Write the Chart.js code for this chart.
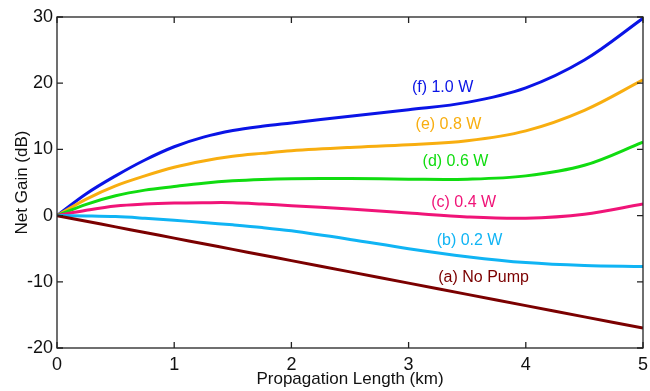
<!DOCTYPE html>
<html>
<head>
<meta charset="utf-8">
<script src="https://cdn.jsdelivr.net/npm/chart.js@4"></script>
<style>
  html, body { margin: 0; padding: 0; background: #fff; }
  #wrap { width: 650px; height: 391px; }
</style>
</head>
<body>
<div id="wrap"><canvas id="myChart"></canvas></div>
<script>
'use strict';

// Data

let lengths = [0, 0.25, 0.5, 0.75, 1, 1.25, 1.5, 1.75, 2, 2.5, 3, 3.5, 4, 4.5, 5];

let noPump = [0, -0.85, -1.7, -2.55, -3.4, -4.25, -5.1, -5.95, -6.8, -8.5, -10.2, -11.9, -13.6, -15.3, -17];
let pump02 = [0, -0.05, -0.15, -0.4, -0.7, -1.05, -1.4, -1.8, -2.3, -3.6, -5.0, -6.2, -7.1, -7.55, -7.7];
let pump04 = [0, 0.8, 1.45, 1.75, 1.9, 1.95, 1.95, 1.75, 1.5, 1.0, 0.4, -0.2, -0.4, 0.2, 1.75];
let pump06 = [0, 1.7, 3.0, 3.85, 4.4, 4.9, 5.25, 5.45, 5.55, 5.6, 5.5, 5.5, 6.0, 7.6, 11.1];
let pump08 = [0, 2.5, 4.5, 6.0, 7.3, 8.25, 8.95, 9.4, 9.8, 10.3, 10.7, 11.3, 12.8, 15.9, 20.5];
let pump10 = [0, 3.3, 6.0, 8.4, 10.4, 11.85, 12.85, 13.5, 14.0, 15.0, 16.0, 17.1, 19.3, 23.5, 29.8];

let seriesNames = ['(a) No Pump', '(b) 0.2 W', '(c) 0.4 W', '(d) 0.6 W', '(e) 0.8 W', '(f) 1.0 W'];
let seriesColors = ['#7b0000', '#10b4f4', '#f01478', '#10dc10', '#f8ae10', '#0a14e6'];

// label anchors (data coordinates)
let labelX = [3.64, 3.52, 3.47, 3.4, 3.34, 3.29];
let labelY = [-9.3, -3.7, 1.9, 8.1, 13.7, 19.3];

let xTicks = [0, 1, 2, 3, 4, 5];
let yTicks = [-20, -10, 0, 10, 20, 30];

let allSeries = [noPump, pump02, pump04, pump06, pump08, pump10];

function toPoints(values) {
  let pts = [];
  for (let i = 0; i < lengths.length; i++) {
    pts.push({ x: lengths[i], y: values[i] });
  }
  return pts;
}

let datasets = [];
for (let i = 0; i < allSeries.length; i++) {
  datasets.push({
    label: seriesNames[i],
    data: toPoints(allSeries[i]),
    borderColor: seriesColors[i],
    borderWidth: 3,
    pointRadius: 0,
    fill: false,
    tension: 0.35
  });
}

// Box, inside ticks and curve labels

const boxPlugin = {
  id: 'boxPlugin',
  afterDraw(chart) {
    const ctx = chart.ctx;
    const area = chart.chartArea;
    const xs = chart.scales.x;
    const ys = chart.scales.y;
    ctx.save();
    ctx.strokeStyle = '#222';
    ctx.lineWidth = 1.3;
    ctx.strokeRect(area.left, area.top, area.right - area.left, area.bottom - area.top);
    ctx.beginPath();
    for (let i = 0; i < xTicks.length; i++) {
      let px = xs.getPixelForValue(xTicks[i]);
      ctx.moveTo(px, area.bottom);
      ctx.lineTo(px, area.bottom - 6);
      ctx.moveTo(px, area.top);
      ctx.lineTo(px, area.top + 6);
    }
    for (let i = 0; i < yTicks.length; i++) {
      let py = ys.getPixelForValue(yTicks[i]);
      ctx.moveTo(area.left, py);
      ctx.lineTo(area.left + 6, py);
      ctx.moveTo(area.right, py);
      ctx.lineTo(area.right - 6, py);
    }
    ctx.stroke();

    ctx.font = '16px "Liberation Sans", Arial, sans-serif';
    ctx.textAlign = 'center';
    ctx.textBaseline = 'middle';
    for (let i = 0; i < seriesNames.length; i++) {
      ctx.fillStyle = seriesColors[i];
      ctx.fillText(seriesNames[i], xs.getPixelForValue(labelX[i]), ys.getPixelForValue(labelY[i]));
    }
    ctx.restore();
  }
};

const ctx = document.getElementById('myChart').getContext('2d');
const myChart = new Chart(ctx, {
  type: 'line',
  data: { datasets: datasets },
  plugins: [boxPlugin],
  options: {
    responsive: true,
    maintainAspectRatio: false,
    animation: false,
    layout: { padding: { left: 0, top: 17, right: 7, bottom: 0 } },
    plugins: {
      legend: { display: false },
      tooltip: { enabled: false }
    },
    scales: {
      x: {
        type: 'linear',
        min: 0,
        max: 5,
        grid: { display: false, drawTicks: false },
        border: { display: false },
        afterFit(scale) {
          scale.height = 43;
          scale.paddingLeft = 0;
          scale.paddingRight = 0;
        },
        afterBuildTicks(scale) { scale.ticks = xTicks.map(v => ({ value: v })); },
        ticks: {
          padding: 6,
          maxRotation: 0,
          color: '#111',
          font: { family: '"Liberation Sans", Arial, sans-serif', size: 18 }
        },
        title: {
          display: true,
          text: 'Propagation Length (km)',
          color: '#111',
          padding: { top: 0, bottom: 1 },
          font: { family: '"Liberation Sans", Arial, sans-serif', size: 17 }
        }
      },
      y: {
        type: 'linear',
        min: -20,
        max: 30,
        grid: { display: false, drawTicks: false },
        border: { display: false },
        afterFit(scale) {
          scale.width = 57;
          scale.paddingTop = 0;
          scale.paddingBottom = 0;
        },
        afterBuildTicks(scale) { scale.ticks = yTicks.map(v => ({ value: v })); },
        ticks: {
          padding: 4,
          color: '#111',
          font: { family: '"Liberation Sans", Arial, sans-serif', size: 18 }
        },
        title: {
          display: true,
          text: 'Net Gain (dB)',
          color: '#111',
          padding: { top: 12, bottom: 0 },
          font: { family: '"Liberation Sans", Arial, sans-serif', size: 17 }
        }
      }
    }
  }
});
</script>
</body>
</html>
